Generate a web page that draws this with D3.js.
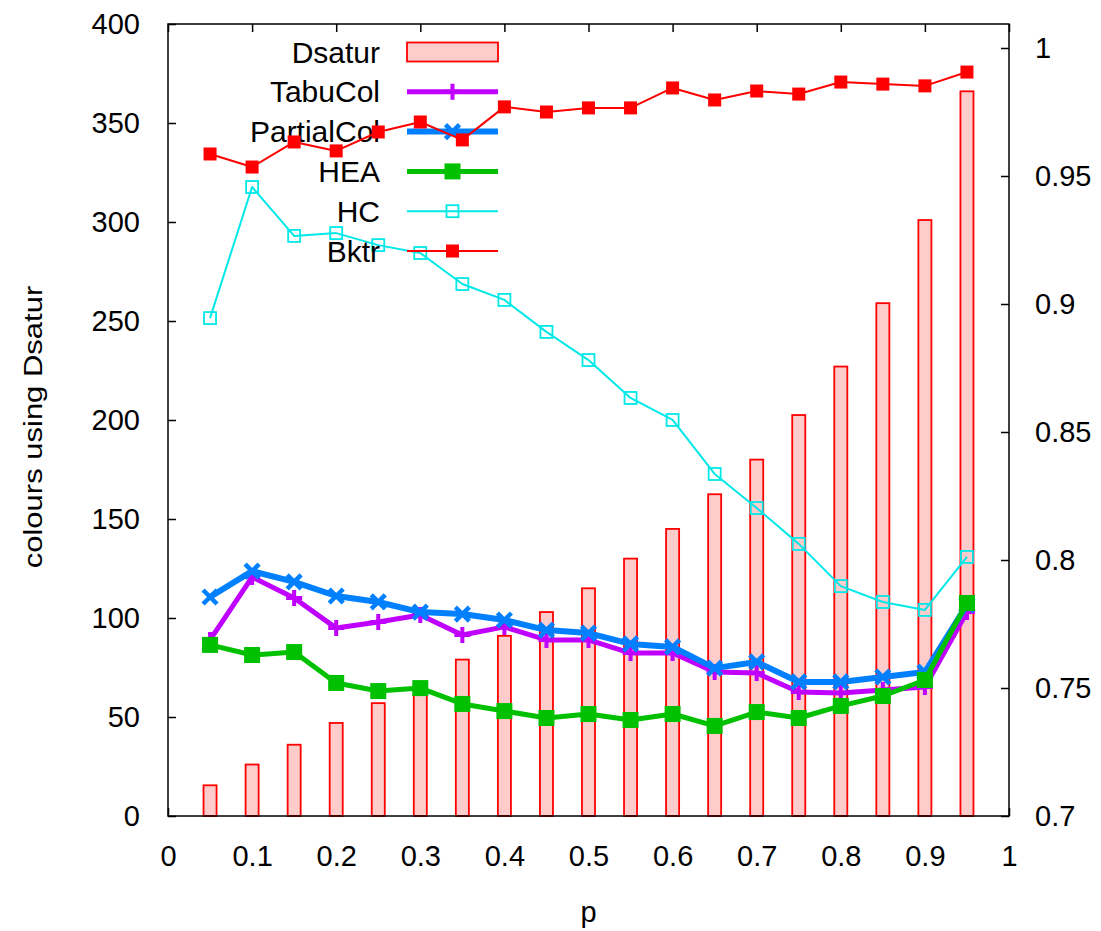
<!DOCTYPE html>
<meta charset="utf-8">
<style>
body { margin: 0; background: #fff; }
text { font-family: "Liberation Sans", Arial, sans-serif; fill: #000; }
</style>
<svg width="1101" height="931"></svg>
<script src="https://d3js.org/d3.v7.min.js"></script>
<script>

var p = [0.05, 0.1, 0.15, 0.2, 0.25, 0.3, 0.35, 0.4, 0.45, 0.5,
         0.55, 0.6, 0.65, 0.7, 0.75, 0.8, 0.85, 0.9, 0.95];

// left axis: number of colours
var dsatur = [15.5, 26, 36, 47, 57, 67.5, 79, 91, 103, 115,
              130, 145, 162.5, 180, 202.5, 227, 259, 301, 366];
var tabucol = [88.9, 120.7, 110.1, 94.9, 98.0, 101.5, 91.4, 95.5, 88.9, 88.9,
               82.3, 82.3, 72.7, 72.2, 62.6, 62.1, 63.6, 65.2, 103.0];
var partialcol = [110.6, 123.7, 118.2, 111.1, 108.1, 103.0, 102.0, 99.0, 93.9, 92.4,
                  86.9, 85.4, 74.7, 77.8, 67.7, 67.7, 70.2, 72.7, 106.6];
var hea = [86.4, 81.3, 82.8, 67.2, 63.1, 64.6, 56.6, 53.0, 49.5, 51.5,
           48.5, 51.5, 45.5, 52.5, 49.5, 55.6, 60.6, 68.7, 107.6];

// right axis: ratios
var hc = [0.8945, 0.9457, 0.9266, 0.9277, 0.9230, 0.9199, 0.9078, 0.9016, 0.8891, 0.8781,
          0.8633, 0.8547, 0.8336, 0.8203, 0.8063, 0.7898, 0.7836, 0.7805, 0.8012];
var bktr = [0.9586, 0.9535, 0.9633, 0.9598, 0.9672, 0.9711, 0.9641, 0.9770, 0.9750, 0.9766,
            0.9766, 0.9844, 0.9797, 0.9832, 0.9820, 0.9867, 0.9859, 0.9852, 0.9906];

var xTicks = [0, 0.1, 0.2, 0.3, 0.4, 0.5, 0.6, 0.7, 0.8, 0.9, 1];
var yTicks = [0, 50, 100, 150, 200, 250, 300, 350, 400];
var y2Ticks = [0.7, 0.75, 0.8, 0.85, 0.9, 0.95, 1];

var svg = d3.select("svg"),
    plotLeft = 168, plotRight = 1009, plotTop = 24, plotBottom = 816;

var x = d3.scaleLinear().domain([0, 1]).range([plotLeft, plotRight]);
var y = d3.scaleLinear().domain([0, 400]).range([plotBottom, plotTop]);
var y2 = d3.scaleLinear().domain([0.7, 0.7 + (plotBottom - plotTop) / 2560]).range([plotBottom, plotTop]);

var fontSize = 29;

// axes (ticks pointing inward, as gnuplot does)
function styleAxis(g) {
  g.select(".domain").remove();
  g.selectAll("line").attr("stroke", "#000").attr("stroke-width", 1.5);
  g.selectAll("text").style("font-size", fontSize + "px")
    .style("font-family", "'Liberation Sans', Arial, sans-serif");
}

svg.append("g")
    .attr("transform", "translate(0," + plotBottom + ")")
    .call(d3.axisBottom(x).tickValues(xTicks).tickFormat(d3.format("")).tickSizeInner(-8).tickSizeOuter(0).tickPadding(29))
    .call(styleAxis);

svg.append("g")
    .attr("transform", "translate(0," + plotTop + ")")
    .call(d3.axisTop(x).tickValues(xTicks).tickFormat("").tickSizeInner(-8).tickSizeOuter(0))
    .call(styleAxis);

svg.append("g")
    .attr("transform", "translate(" + plotLeft + ",0)")
    .call(d3.axisLeft(y).tickValues(yTicks).tickSizeInner(-8).tickSizeOuter(0).tickPadding(28))
    .call(styleAxis);

svg.append("g")
    .attr("transform", "translate(" + plotRight + ",0)")
    .call(d3.axisRight(y2).tickValues(y2Ticks).tickFormat(d3.format("")).tickSizeInner(-8).tickSizeOuter(0).tickPadding(26))
    .call(styleAxis);

// axis titles (the y title is a bit condensed in the original)
svg.append("text")
    .attr("transform", "translate(41.5,427) rotate(-90) scale(1,0.86)")
    .attr("text-anchor", "middle")
    .style("font-size", "31px")
    .text("colours using Dsatur");

svg.append("text")
    .attr("x", (plotLeft + plotRight) / 2)
    .attr("y", 922)
    .attr("text-anchor", "middle")
    .style("font-size", fontSize + "px")
    .text("p");

var plot = svg.append("g");

var keyX = 380, keyX0 = 407, keyX1 = 498, keyY0 = 52, keyStep = 39.8;

function keyLabel(i, name) {
  plot.append("text")
      .attr("x", keyX)
      .attr("y", keyY0 + i * keyStep)
      .attr("dy", "0.35em")
      .attr("text-anchor", "end")
      .style("font-size", "30px")
      .text(name);
}

// point markers
function marker(g, type, color, cx, cy) {
  if (type === "square") {
    g.append("rect").attr("x", cx - 6.5).attr("y", cy - 6.5).attr("width", 13).attr("height", 13)
        .attr("fill", color);
  } else if (type === "bigsquare") {
    g.append("rect").attr("x", cx - 8).attr("y", cy - 8).attr("width", 16).attr("height", 16)
        .attr("fill", color);
  } else if (type === "opensquare") {
    g.append("rect").attr("x", cx - 6).attr("y", cy - 6).attr("width", 12).attr("height", 12)
        .attr("fill", "none").attr("stroke", color).attr("stroke-width", 1.8);
  } else if (type === "plus") {
    g.append("path").attr("d", "M" + (cx - 8) + "," + cy + "h16M" + cx + "," + (cy - 8) + "v16")
        .attr("stroke", color).attr("stroke-width", 4);
  } else if (type === "cross") {
    g.append("path").attr("d", "M" + (cx - 7) + "," + (cy - 7) + "l14,14M" + (cx - 7) + "," + (cy + 7) + "l14,-14")
        .attr("stroke", color).attr("stroke-width", 4.5);
  }
}

// Dsatur bars
keyLabel(0, "Dsatur");
plot.append("rect")
    .attr("x", keyX0).attr("y", keyY0 - 9.5).attr("width", keyX1 - keyX0).attr("height", 19)
    .attr("fill", "#ffcccc").attr("stroke", "#ff0000").attr("stroke-width", 1.8);

var barW = x(0.0155) - x(0);
plot.selectAll(".bar")
    .data(p)
    .enter().append("rect")
    .attr("class", "bar")
    .attr("x", function(d) { return x(d) - barW / 2; })
    .attr("y", function(d, i) { return y(dsatur[i]); })
    .attr("width", barW)
    .attr("height", function(d, i) { return y(0) - y(dsatur[i]); })
    .attr("fill", "#ffcccc")
    .attr("stroke", "#ff0000")
    .attr("stroke-width", 1.8);

var series = [
  {name: "TabuCol", values: tabucol, scale: y, color: "#c000ff", width: 5, type: "plus"},
  {name: "PartialCol", values: partialcol, scale: y, color: "#0080ff", width: 6, type: "cross"},
  {name: "HEA", values: hea, scale: y, color: "#00c000", width: 5, type: "bigsquare"},
  {name: "HC", values: hc, scale: y2, color: "#00e8e8", width: 2, type: "opensquare"},
  {name: "Bktr", values: bktr, scale: y2, color: "#ff0000", width: 2, type: "square"}
];

series.forEach(function(s, k) {
  var i = k + 1,
      ky = keyY0 + i * keyStep;

  keyLabel(i, s.name);
  plot.append("line")
      .attr("x1", keyX0).attr("x2", keyX1).attr("y1", ky).attr("y2", ky)
      .attr("stroke", s.color).attr("stroke-width", s.width);
  marker(plot, s.type, s.color, (keyX0 + keyX1) / 2, ky);

  var line = d3.line()
      .x(function(d) { return x(d); })
      .y(function(d, j) { return s.scale(s.values[j]); });

  plot.append("path")
      .datum(p)
      .attr("d", line)
      .attr("fill", "none")
      .attr("stroke", s.color)
      .attr("stroke-width", s.width)
      .attr("stroke-linejoin", "round");

  p.forEach(function(d, j) {
    marker(plot, s.type, s.color, x(d), s.scale(s.values[j]));
  });
});

// frame
svg.append("rect")
    .attr("x", plotLeft).attr("y", plotTop)
    .attr("width", plotRight - plotLeft).attr("height", plotBottom - plotTop)
    .attr("fill", "none").attr("stroke", "#000").attr("stroke-width", 1.5);

</script>
